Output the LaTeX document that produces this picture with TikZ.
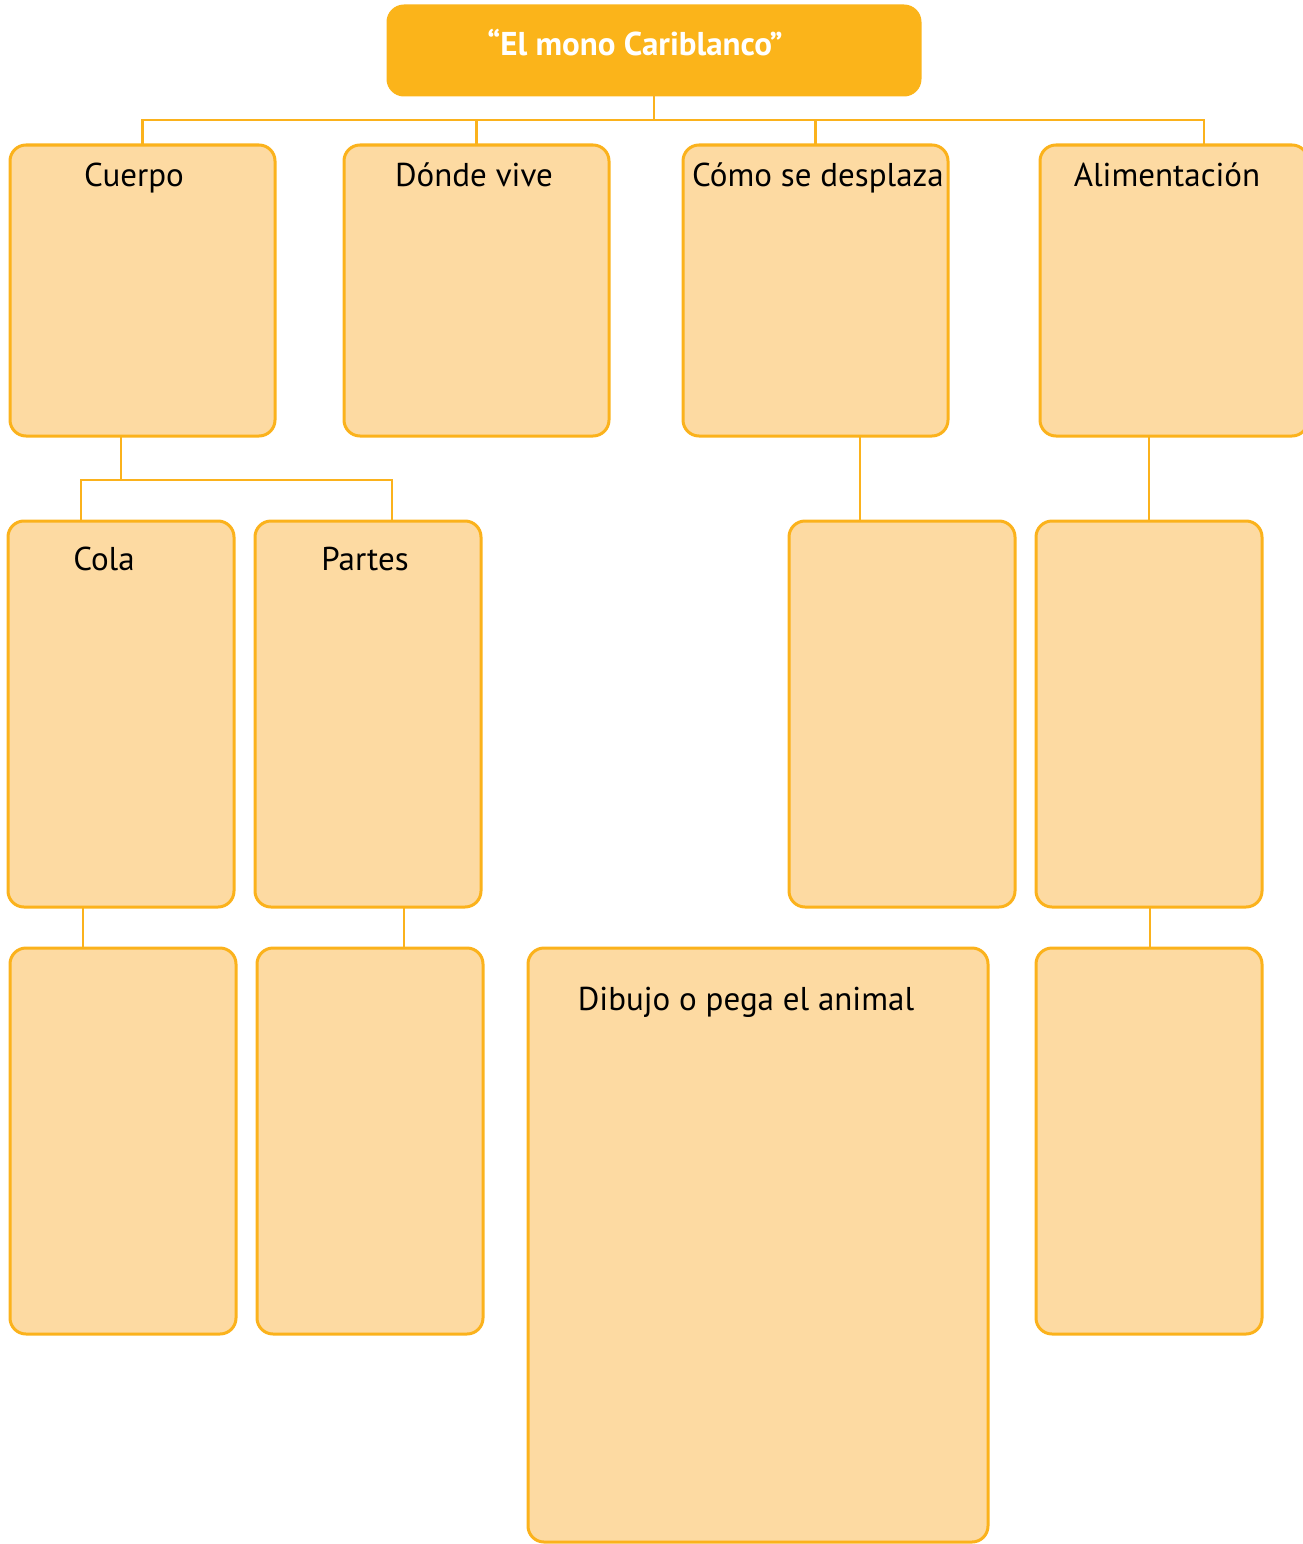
\documentclass[tikz,border=0pt]{standalone}
\usepackage{fontspec}
\setmainfont{PT Sans}
\definecolor{edge}{HTML}{FBB21C}
\definecolor{pale}{HTML}{FDDAA2}
\definecolor{head}{HTML}{FBB41A}
\tikzset{
  card/.style={draw=edge, fill=pale, line width=3pt, rounded corners=16pt, inner sep=0pt, outer sep=0pt, anchor=north west},
  titlecard/.style={draw=head, fill=head, line width=3pt, rounded corners=16pt, inner sep=0pt, outer sep=0pt, anchor=north west},
  link/.style={draw=edge, line width=2.5pt},
  lbl/.style={anchor=base, inner sep=0pt, font=\fontsize{33}{40}\selectfont},
}
\begin{document}
\begin{tikzpicture}[x=1pt,y=-1pt]
\useasboundingbox (0,0) rectangle (1302,1544);
% title
\node[titlecard, minimum width=532pt, minimum height=89pt] (top) at (388,6) {};
\node[lbl, text=white, font=\fontsize{33}{40}\selectfont\bfseries] (toptxt) at (635,56) {“El mono Cariblanco”};
% row 1
\node[card, minimum width=265pt, minimum height=291pt] (cuerpo) at (10,145) {};
\node[card, minimum width=265pt, minimum height=291pt] (donde) at (344,145) {};
\node[card, minimum width=265pt, minimum height=291pt] (como) at (683,145) {};
\node[card, minimum width=268pt, minimum height=291pt] (alim) at (1040,145) {};
\node[lbl] (cuerpotxt) at (134,186) {Cuerpo};
\node[lbl] (dondetxt) at (474,186) {Dónde vive};
\node[lbl] (comotxt) at (818,186) {Cómo se desplaza};
\node[lbl] (alimtxt) at (1167,186) {Alimentación};
% row 2
\node[card, minimum width=226pt, minimum height=386pt] (cola) at (8,521) {};
\node[card, minimum width=226pt, minimum height=386pt] (partes) at (255,521) {};
\node[card, minimum width=226pt, minimum height=386pt] (comob) at (789,521) {};
\node[card, minimum width=226pt, minimum height=386pt] (alimb) at (1036,521) {};
\node[lbl] (colatxt) at (104,570) {Cola};
\node[lbl] (partestxt) at (365,570) {Partes};
% row 3
\node[card, minimum width=226pt, minimum height=386pt] (colab) at (10,948) {};
\node[card, minimum width=226pt, minimum height=386pt] (partesb) at (257,948) {};
\node[card, minimum width=460pt, minimum height=594pt] (dibujo) at (528,948) {};
\node[card, minimum width=226pt, minimum height=386pt] (alimc) at (1036,948) {};
\node[lbl] (dibujotxt) at (746,1010) {Dibujo o pega el animal};
% connectors
\coordinate (bar) at (654,120);
\draw[link] (top.south) -- (bar);
\draw[link] (bar) -| (cuerpo.north);
\draw[link] (bar) -| (donde.north);
\draw[link] (bar) -| (como.north);
\draw[link] (bar) -| ([xshift=164pt]alim.north west);
\coordinate (split) at (121,480);
\draw[link] ([xshift=111pt]cuerpo.south west) -- (split);
\draw[link] (split) -| ([xshift=73pt]cola.north west);
\draw[link] (split) -| ([xshift=137pt]partes.north west);
\draw[link] ([xshift=177pt]como.south west) -- ([xshift=71pt]comob.north west);
\draw[link] ([xshift=109pt]alim.south west) -- (alimb.north);
\draw[link] ([xshift=75pt]cola.south west) -- ([xshift=73pt]colab.north west);
\draw[link] ([xshift=149pt]partes.south west) -- ([xshift=147pt]partesb.north west);
\draw[link] ([xshift=114pt]alimb.south west) -- ([xshift=114pt]alimc.north west);
\end{tikzpicture}
\end{document}
